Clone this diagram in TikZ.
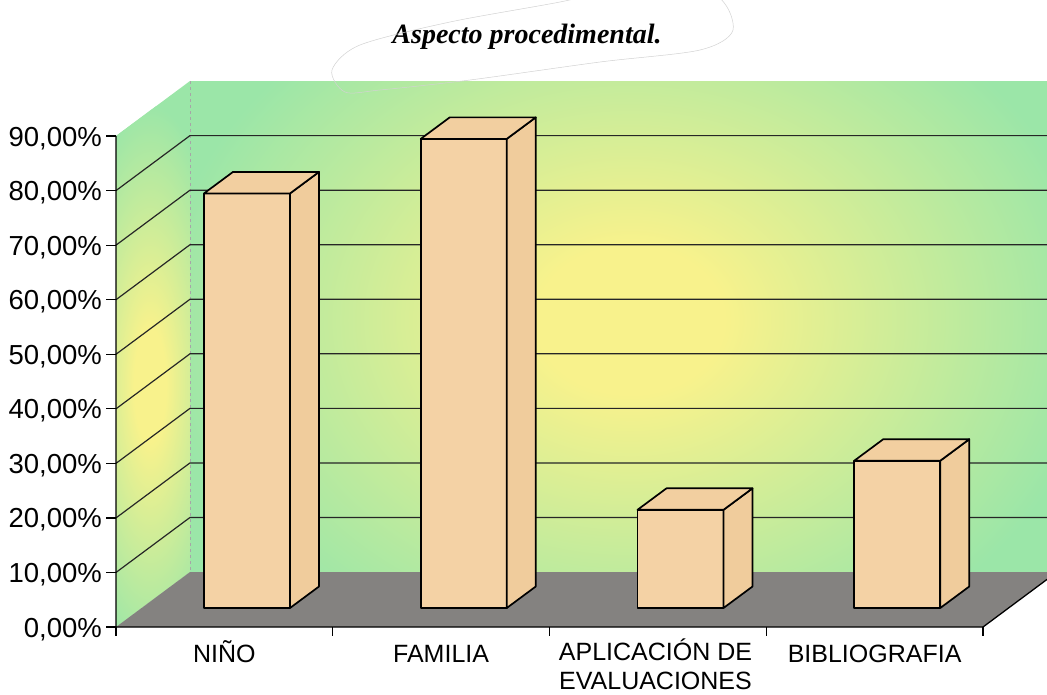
\documentclass[tikz,border=0pt]{standalone}
\usepackage{fontspec}
\setmainfont{Liberation Sans}
\newfontfamily\titlefont{Liberation Serif}
\definecolor{wallG}{RGB}{155,230,168}
\definecolor{glowY}{RGB}{248,242,140}
\definecolor{floorG}{RGB}{132,130,128}
\definecolor{barF}{RGB}{244,210,165}
\definecolor{barS}{RGB}{240,204,156}
\definecolor{barT}{RGB}{242,207,160}
\pgfdeclareradialshading{glow}{\pgfpoint{0bp}{0bp}}{color(0bp)=(glowY); color(5bp)=(glowY); color(25bp)=(wallG); color(50bp)=(wallG)}
\begin{document}
\begin{tikzpicture}[x=1pt,y=-1pt,
  gridline/.style={line width=1.2pt, black!85},
  barline/.style={line width=1.7pt, line join=round, black},
  ticklab/.style={anchor=base east, font=\fontsize{27.5}{31}\selectfont, inner sep=0pt},
  catlab/.style={anchor=base, font=\fontsize{25}{29}\selectfont, inner sep=0pt, align=center},
  pencil/.style={gray!35, line width=0.5pt}]
\useasboundingbox (0,0) rectangle (1047,694);
\fill[white] (0,0) rectangle (1047,694);
% back wall
\begin{scope}
  \clip (190,81) rectangle (1047,572);
  \fill[wallG] (190,81) rectangle (1047,572);
  \shade[shading=glow] (630,320) ellipse (470 and 370);
\end{scope}
% left wall
\begin{scope}
  \clip (116,627) -- (116,136) -- (190,81) -- (190,572) -- cycle;
  \fill[wallG] (116,81) rectangle (190,627);
  \shade[shading=glow] (150,385) ellipse (80 and 280);
\end{scope}
% floor
\fill[floorG] (116,627) -- (190,572) -- (1047,572) -- (1047,579.4) -- (983,627) -- cycle;
% corner line
\draw[gray!70, dashed, line width=0.5pt] (190,81) -- (190,572);
% grid lines
\foreach \k in {1,...,8}{
  \pgfmathsetmacro{\yy}{627-54.55*\k}
  \draw[gridline] (116,\yy) -- (190,\yy-55) -- (1047,\yy-55);
}
% axes
\draw[line width=1.3pt] (116,136) -- (116,627) -- (983,627) -- (1047,579.4);
\foreach \k in {0,...,9}{
  \pgfmathsetmacro{\yy}{627-54.55*\k}
  \draw[line width=1.2pt] (106,\yy) -- (116,\yy);
}
\foreach \i in {0,...,4}{
  \draw[line width=1.2pt] (116+216.75*\i,627) -- (116+216.75*\i,636);
}
% bars
\foreach \i/\v in {0/76,1/86,2/18,3/27}{
  \pgfmathsetmacro{\xl}{204+216.75*\i}
  \pgfmathsetmacro{\xr}{\xl+86}
  \pgfmathsetmacro{\yt}{608-\v*5.455}
  \filldraw[barline, fill=barF] (\xl,608) rectangle (\xr,\yt);
  \filldraw[barline, fill=barS] (\xr,608) -- (\xr+29,586.5) -- (\xr+29,\yt-21.5) -- (\xr,\yt) -- cycle;
  \filldraw[barline, fill=barT] (\xl,\yt) -- (\xl+29,\yt-21.5) -- (\xr+29,\yt-21.5) -- (\xr,\yt) -- cycle;
}
% tick labels
\node[ticklab] (t0) at (102,637) {0,00\%};
\foreach \k in {1,...,9}{
  \pgfmathsetmacro{\yy}{627-54.55*\k+10}
  \node[ticklab] (t\k) at (102,\yy) {\k0,00\%};
}
% category labels
\node[catlab] (c1) at (224.4,662) {NIÑO};
\node[catlab] (c2) at (441.1,662) {FAMILIA};
\node[catlab] (c3) at (655.5,689) {APLICACIÓN DE\\EVALUACIONES};
\node[catlab] (c4) at (874.6,662) {BIBLIOGRAFIA};
% title
\node[anchor=base, inner sep=0pt, font=\titlefont\bfseries\itshape\fontsize{28}{32}\selectfont] (title) at (527,43) {Aspecto procedimental.};
% pencil loop
\draw[pencil] plot[smooth cycle] coordinates {(345,92) (332,70) (360,45) (450,22) (560,2) (640,-15) (715,-5) (733,30) (700,50) (600,62) (470,80) (380,90)};
\end{tikzpicture}
\end{document}
